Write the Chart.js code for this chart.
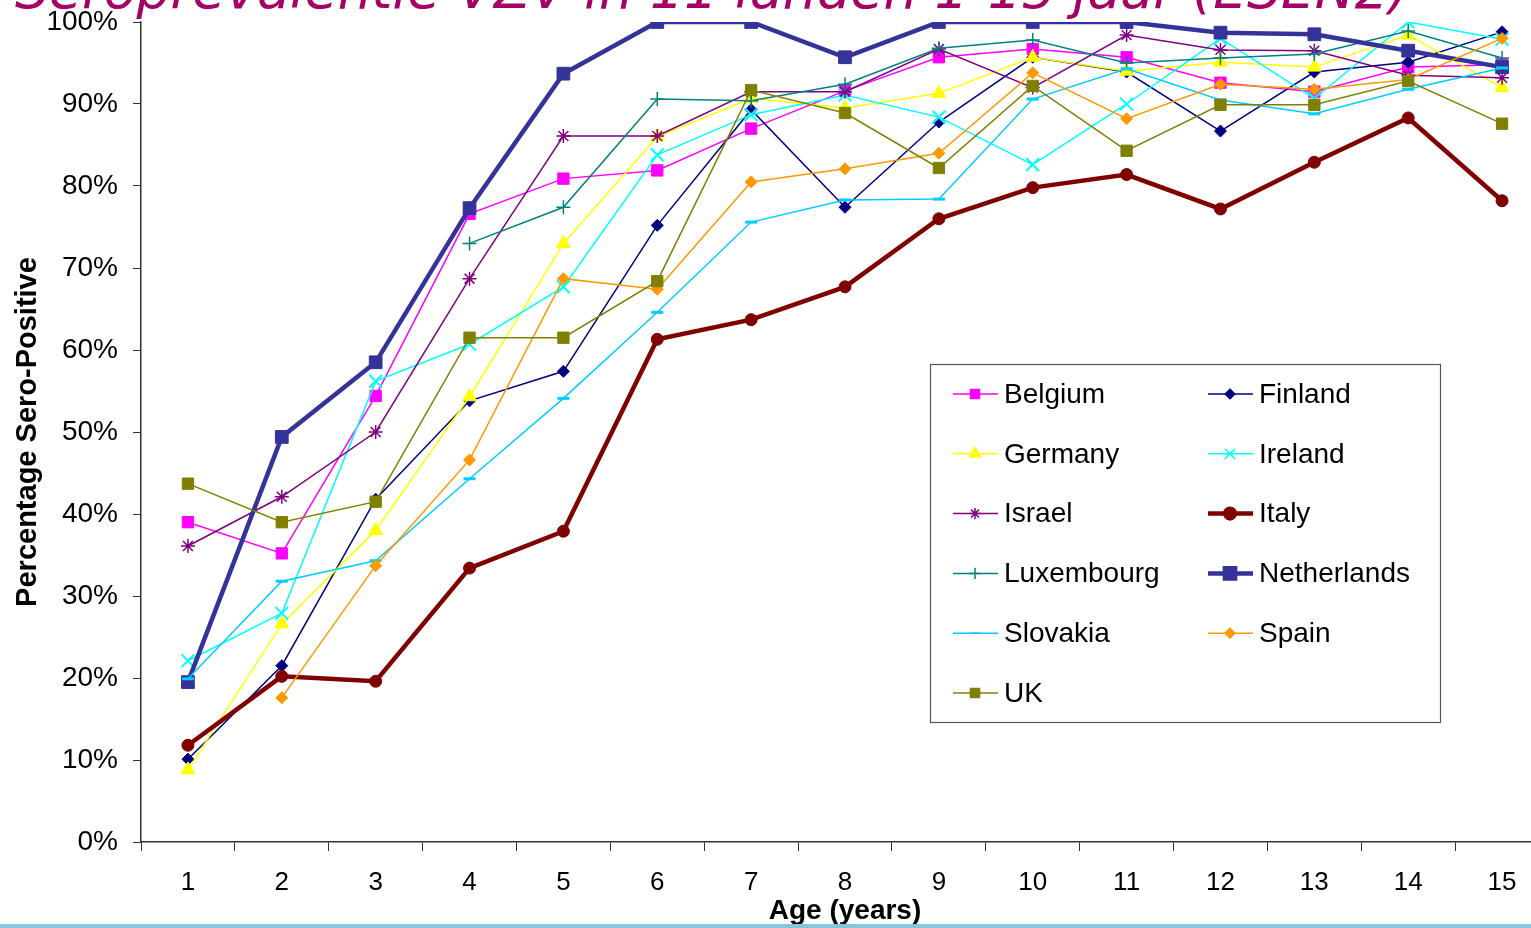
<!DOCTYPE html>
<html>
<head>
<meta charset="utf-8">
<script src="https://cdn.jsdelivr.net/npm/chart.js@4.4.1/dist/chart.umd.min.js"></script>
<style>
  html, body { margin: 0; padding: 0; background: #fff; overflow: hidden; width: 1531px; height: 928px; }
  #wrap { position: absolute; left: 0; top: 0; width: 1560px; height: 928px; }
  #title { position: absolute; left: 15px; top: -37px; font: italic 53.5px/53.5px "DejaVu Sans", Verdana, sans-serif;
           color: #a50063; white-space: nowrap; z-index: 2; }
  #bar { position: absolute; left: 0; top: 924px; width: 1531px; height: 4px; background: #87c4de; z-index: 3; }
</style>
</head>
<body>
<div id="title">Seroprevalentie VZV in 11 landen 1-15 jaar (ESEN2)</div>
<div id="wrap"><canvas id="chart"></canvas></div>
<div id="bar"></div>
<script>
// ages on the x axis
const ages = ['1', '2', '3', '4', '5', '6', '7', '8', '9', '10', '11', '12', '13', '14', '15'];

// percentage sero-positive per country
const belgium     = [39.0, 35.2, 54.4, 76.6, 80.9, 81.9, 87.0, 91.6, 95.7, 96.7, 95.7, 92.6, 91.5, 94.5, 94.8];
const finland     = [10.1, 21.5, 41.8, 53.8, 57.4, 75.2, 89.3, 77.4, 87.8, 95.7, 93.9, 86.7, 93.9, 95.1, 98.8];
const germany     = [8.8, 26.6, 38.0, 54.3, 73.0, 86.0, 90.7, 89.5, 91.3, 95.7, 94.0, 95.1, 94.5, 98.4, 92.0];
const ireland     = [22.1, 27.9, 56.2, 60.7, 67.7, 83.8, 88.7, 91.1, 88.4, 82.6, 90.0, 98.0, 90.7, 100, 97.9];
const israel      = [36.1, 42.1, 50.0, 68.7, 86.1, 86.1, 91.5, 91.5, 96.7, 92.0, 98.4, 96.6, 96.5, 93.5, 93.2];
const italy       = [11.8, 20.2, 19.6, 33.4, 37.9, 61.3, 63.7, 67.7, 76.0, 79.8, 81.4, 77.2, 82.9, 88.3, 78.2];
const luxembourg  = [null, null, null, 73.0, 77.4, 90.6, 90.4, 92.4, 96.8, 97.8, 95.0, 95.6, 96.1, 98.9, 95.6];
const netherlands = [19.5, 49.4, 58.5, 77.3, 93.7, 100, 100, 95.7, 100, 100, 100, 98.7, 98.5, 96.5, 94.5];
const slovakia    = [19.9, 31.8, 34.3, 44.3, 54.1, 64.6, 75.6, 78.3, 78.4, 90.6, 94.3, 90.5, 88.8, 91.8, 94.4];
const spain       = [null, 17.6, 33.7, 46.6, 68.7, 67.4, 80.5, 82.1, 84.0, 93.8, 88.2, 92.4, 91.8, 93.0, 98.0];
const uk          = [43.7, 39.0, 41.5, 61.5, 61.5, 68.4, 91.7, 88.9, 82.2, 92.2, 84.3, 89.9, 89.9, 92.8, 87.6];

const yTicks = [0, 10, 20, 30, 40, 50, 60, 70, 80, 90, 100];

// name, values, colour, marker, marker radius, line width, marker border
const series = [
    ['Belgium', belgium, '#ff00ff', 'rect', 8, 1.5, 1],
    ['Finland', finland, '#000080', 'rectRot', 6, 1.5, 1],
    ['Germany', germany, '#ffff00', 'triangle', 8, 1.5, 1],
    ['Ireland', ireland, '#00ffff', 'crossRot', 9, 1.5, 2],
    ['Israel', israel, '#800080', 'star', 7, 1.5, 1.5],
    ['Italy', italy, '#800000', 'circle', 6, 4.5, 1],
    ['Luxembourg', luxembourg, '#008080', 'cross', 7, 1.5, 1.5],
    ['Netherlands', netherlands, '#333399', 'rect', 9, 4.5, 1],
    ['Slovakia', slovakia, '#00ccff', 'line', 6, 1.5, 3],
    ['Spain', spain, '#ff9900', 'rectRot', 6, 1.5, 1],
    ['UK', uk, '#808000', 'rect', 8, 1.5, 1]
];

Chart.defaults.font.family = '"Liberation Sans", Arial, sans-serif';
Chart.defaults.color = '#000';

// Excel style legend box inside the plot
const legendBox = {
    id: 'legendBox',
    afterDatasetsDraw(chart) {
        const ctx = chart.ctx;
        ctx.save();
        ctx.fillStyle = '#fff';
        ctx.fillRect(930, 364, 510, 358);
        ctx.strokeStyle = '#555';
        ctx.lineWidth = 1.2;
        ctx.strokeRect(930.5, 364.5, 510, 358);

        chart.data.datasets.forEach((ds, i) => {
            const col = i % 2;
            const row = Math.floor(i / 2);
            const x0 = col === 0 ? 953 : 1208;
            const y = 394 + row * 59.8;
            ctx.strokeStyle = ds.borderColor;
            ctx.lineWidth = ds.borderWidth;
            ctx.beginPath();
            ctx.moveTo(x0, y);
            ctx.lineTo(x0 + 45, y);
            ctx.stroke();
            ctx.fillStyle = ds.pointBackgroundColor;
            ctx.strokeStyle = ds.pointBorderColor;
            Chart.helpers.drawPoint(ctx, {
                pointStyle: ds.pointStyle,
                radius: ds.pointRadius * 0.8,
                borderWidth: ds.pointBorderWidth,
                rotation: 0
            }, x0 + 22, y);
            ctx.fillStyle = '#000';
            ctx.font = '28px "Liberation Sans", Arial, sans-serif';
            ctx.textBaseline = 'middle';
            ctx.textAlign = 'left';
            ctx.fillText(ds.label, x0 + 51, y + 1);
        });
        ctx.restore();
    }
};

const ctx = document.getElementById('chart').getContext('2d');
new Chart(ctx, {
    type: 'line',
    data: {
        labels: ages,
        datasets: series.map((s, i) => ({
            label: s[0],
            data: s[1],
            borderColor: s[2],
            backgroundColor: s[2],
            pointBackgroundColor: s[2],
            pointBorderColor: s[2],
            pointStyle: s[3],
            pointRadius: s[4],
            pointHoverRadius: s[4],
            borderWidth: s[5],
            pointBorderWidth: s[6],
            tension: 0,
            fill: false,
            order: series.length - i
        }))
    },
    options: {
        responsive: true,
        maintainAspectRatio: false,
        animation: false,
        events: [],
        layout: { padding: { top: 22, right: 2, bottom: 0, left: 0 } },
        plugins: {
            legend: { display: false },
            tooltip: { enabled: false }
        },
        scales: {
            x: {
                offset: true,
                grid: { offset: true, drawOnChartArea: false, drawTicks: true, tickLength: 9, color: '#333', lineWidth: 1 },
                border: { color: '#333', width: 1.5 },
                ticks: { font: { size: 26 }, padding: 16, maxRotation: 0, autoSkip: false },
                title: { display: true, text: 'Age (years)', font: { size: 28, weight: 'bold' }, padding: { top: 0, bottom: 0 } },
                afterFit: s => { s.height = 86; s.paddingLeft = 0; s.paddingRight = 0; }
            },
            y: {
                min: 0,
                max: 100,
                afterBuildTicks: s => { s.ticks = yTicks.map(v => ({ value: v })); },
                grid: { drawOnChartArea: false, drawTicks: true, tickLength: 8, color: '#333', lineWidth: 1 },
                border: { color: '#333', width: 1.5 },
                ticks: { font: { size: 28 }, padding: 15, callback: v => v + '%' },
                title: { display: true, text: 'Percentage Sero-Positive', font: { size: 29, weight: 'bold' }, padding: { top: 11, bottom: 0 } },
                afterFit: s => { s.width = 141; s.paddingTop = 0; s.paddingBottom = 0; }
            }
        }
    },
    plugins: [legendBox]
});
</script>
</body>
</html>
